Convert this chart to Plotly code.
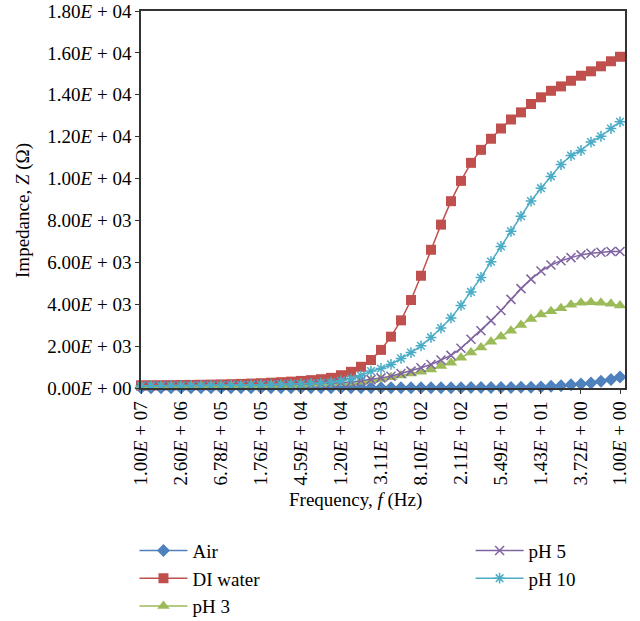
import plotly.graph_objects as go

# Frequency sweep (Hz), high to low
frequency_hz = [1.0e7, 7.1429e6, 5.1020e6, 3.6443e6, 2.6031e6, 1.8593e6, 1.3281e6, 9.4865e5,
                6.7760e5, 4.8400e5, 3.4572e5, 2.4694e5, 1.7639e5, 1.2599e5, 8.9993e4, 6.4281e4,
                4.5914e4, 3.2796e4, 2.3426e4, 1.6733e4, 1.1952e4, 8537.2, 6097.9, 4355.7,
                3111.2, 2222.3, 1587.3, 1133.8, 809.87, 578.48, 413.20, 295.14,
                210.82, 150.58, 107.56, 76.83, 54.877, 39.198, 27.998, 19.999,
                14.285, 10.204, 7.2882, 5.2059, 3.7185, 2.6561, 1.8972, 1.3551, 1.0]

tick_freqs = [1.0e7, 2.6031e6, 6.7760e5, 1.7639e5, 4.5914e4, 1.1952e4, 3111.2, 809.87,
              210.82, 54.877, 14.285, 3.7185, 1.0]
tick_labels = ["1.00<i>E</i> + 07", "2.60<i>E</i> + 06", "6.78<i>E</i> + 05", "1.76<i>E</i> + 05",
               "4.59<i>E</i> + 04", "1.20<i>E</i> + 04", "3.11<i>E</i> + 03", "8.10<i>E</i> + 02",
               "2.11<i>E</i> + 02", "5.49<i>E</i> + 01", "1.43<i>E</i> + 01", "3.72<i>E</i> + 00",
               "1.00<i>E</i> + 00"]

y_tickvals = [0, 2000, 4000, 6000, 8000, 10000, 12000, 14000, 16000, 18000]
y_ticklabels = ["0.00<i>E</i> + 00", "2.00<i>E</i> + 03", "4.00<i>E</i> + 03", "6.00<i>E</i> + 03",
                "8.00<i>E</i> + 03", "1.00<i>E</i> + 04", "1.20<i>E</i> + 04", "1.40<i>E</i> + 04",
                "1.60<i>E</i> + 04", "1.80<i>E</i> + 04"]

# Impedance (Ohm)
air = [10, 10, 10, 10, 10, 10, 10, 10, 10, 10, 10, 10, 10, 10, 10, 10,
       10, 10, 10, 10, 10, 10, 10, 10, 10, 10, 10, 12, 12, 14, 15, 16,
       17, 18, 20, 22, 25, 28, 32, 36, 48, 78, 111, 160, 193, 241, 323, 400, 531]

di_water = [130, 132, 135, 138, 142, 148, 155, 163, 172, 183, 196, 212, 230, 252, 278, 305,
            338, 375, 420, 485, 610, 772, 1013, 1337, 1819, 2450, 3230, 4200, 5360, 6600, 7800, 8920,
            9890, 10750, 11370, 11900, 12390, 12820, 13160, 13560, 13880, 14190, 14400, 14670,
            14910, 15120, 15360, 15600, 15815]

ph3 = [70, 71, 72, 74, 76, 78, 81, 84, 88, 92, 97, 103, 110, 117, 125, 135,
       147, 162, 180, 200, 225, 255, 300, 370, 434, 516, 594, 690, 772, 883, 1047, 1206,
       1448, 1689, 1930, 2205, 2461, 2736, 3007, 3296, 3508, 3668, 3812, 3972, 4068, 4100,
       4068, 4020, 3943]

ph5 = [100, 101, 102, 104, 106, 108, 111, 114, 117, 121, 126, 131, 137, 144, 152, 162,
       173, 186, 202, 222, 248, 290, 352, 400, 483, 565, 690, 806, 965, 1124, 1337, 1559,
       1897, 2331, 2736, 3218, 3701, 4232, 4744, 5198, 5584, 5870, 6080, 6225, 6355, 6433,
       6480, 6515, 6515]

ph10 = [110, 111, 112, 114, 116, 119, 122, 126, 130, 135, 141, 148, 156, 165, 176, 188,
        202, 218, 240, 275, 352, 434, 594, 806, 931, 1124, 1414, 1689, 2012, 2413, 2862, 3345,
        3943, 4585, 5275, 6032, 6756, 7480, 8204, 8928, 9540, 10100, 10670, 11100, 11340,
        11740, 12020, 12390, 12710]

FONT = "Liberation Serif, Times New Roman, serif"
FS = 19

series = [
    ("Air", air, "#4F81BD", "diamond", 10, "legend"),
    ("DI water", di_water, "#C0504D", "square", 10, "legend"),
    ("pH 3", ph3, "#9BBB59", "triangle-up", 11, "legend"),
    ("pH 5", ph5, "#8064A2", "x-thin-open", 9, "legend2"),
    ("pH 10", ph10, "#4BACC6", "asterisk-open", 9, "legend2"),
]

fig = go.Figure()
for name, vals, color, sym, size, leg in series:
    marker = dict(symbol=sym, size=size, color=color)
    if sym.endswith("-open"):
        marker["line"] = dict(color=color, width=1.5)
    else:
        marker["line"] = dict(width=0)
    fig.add_trace(go.Scatter(
        x=frequency_hz, y=vals, name=name, mode="lines+markers",
        line=dict(color=color, width=1.5), marker=marker,
        cliponaxis=False, legend=leg,
    ))

fig.update_layout(
    width=640, height=621,
    margin=dict(l=141, r=15, t=11, b=233, autoexpand=False),
    paper_bgcolor="white", plot_bgcolor="white",
    font=dict(family=FONT, size=FS, color="black"),
    showlegend=True,
    legend=dict(x=-0.0135, y=-0.381, xanchor="left", yanchor="top",
                bgcolor="rgba(0,0,0,0)", font=dict(size=FS, family=FONT),
                tracegroupgap=0, itemwidth=48),
    legend2=dict(x=0.681, y=-0.381, xanchor="left", yanchor="top",
                 bgcolor="rgba(0,0,0,0)", font=dict(size=FS, family=FONT),
                 tracegroupgap=0, itemwidth=48),
    xaxis=dict(type="log", range=[7, -0.073], tickmode="array",
               tickvals=tick_freqs, ticktext=tick_labels, tickangle=-90,
               showgrid=False, zeroline=False, showline=True, mirror=True,
               linecolor="#333333", linewidth=1.5, ticks="outside", ticklen=4,
               tickcolor="#333333", tickfont=dict(size=FS, family=FONT)),
    yaxis=dict(range=[0, 18000], tickmode="array", tickvals=y_tickvals,
               ticktext=y_ticklabels, showgrid=False, zeroline=False,
               showline=True, mirror=True, linecolor="#333333", linewidth=1.5,
               ticks="outside", ticklen=4, tickcolor="#333333",
               tickfont=dict(size=FS, family=FONT)),
    annotations=[
        dict(text="Frequency, <i>f</i> (Hz)", xref="paper", yref="paper",
             x=0.444, y=-0.297, xanchor="center", yanchor="middle",
             showarrow=False, font=dict(size=FS, family=FONT)),
        dict(text="Impedance, <i>Z</i> (Ω)", xref="paper", yref="paper",
             x=-0.244, y=0.472, xanchor="center", yanchor="middle", textangle=-90,
             showarrow=False, font=dict(size=FS, family=FONT)),
    ],
)

fig.write_html("out.html", config={"displayModeBar": False},
               post_script="document.body.style.margin='0px';")
